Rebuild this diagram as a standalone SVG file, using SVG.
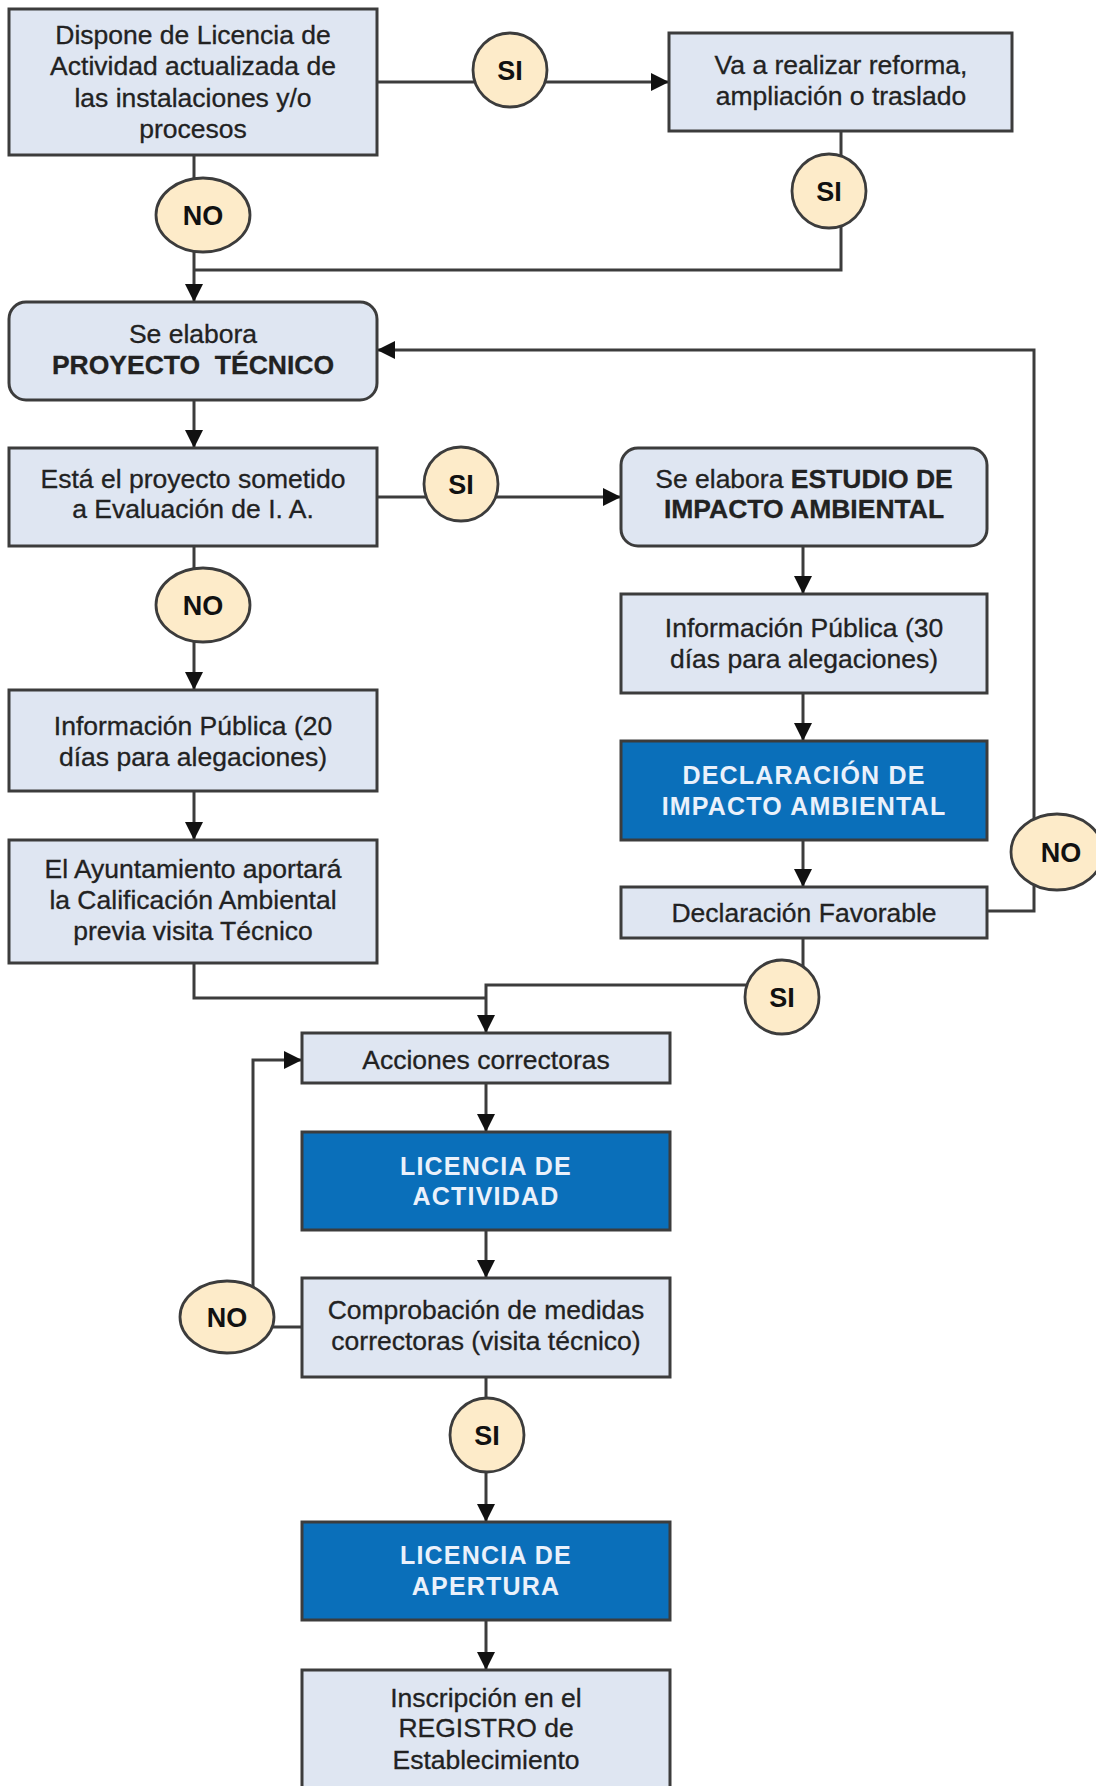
<svg xmlns="http://www.w3.org/2000/svg" width="1096" height="1786" viewBox="0 0 1096 1786">
<style>
.box{fill:#dfe6f2;stroke:#3c3c3c;stroke-width:3}
.dark{fill:#0a6fba;stroke:#3c3c3c;stroke-width:3}
.circ{fill:#fdebc9;stroke:#3c3c3c;stroke-width:2.8}
.conn{stroke:#3c3c3c;stroke-width:3;fill:none}
text{font-family:"Liberation Sans",Arial,sans-serif;font-size:26.5px;fill:#222;stroke:#222;stroke-width:0.3;text-anchor:middle}
.b{font-weight:bold}
.w{fill:#eaf1fb;stroke:none;font-weight:bold;letter-spacing:1.2px;font-size:25px}
.lbl{font-size:27px;font-weight:bold;fill:#111;stroke:none}
</style>
<defs>
<marker id="ah" viewBox="0 0 18 18" refX="18" refY="9" markerWidth="18" markerHeight="18" markerUnits="userSpaceOnUse" orient="auto">
<path d="M0,0 L18,9 L0,18 z" fill="#111"/>
</marker>
</defs>
<rect width="1096" height="1786" fill="#ffffff"/>
<g id="connectors">
<path class="conn" d="M377,82 H669" marker-end="url(#ah)"/>
<path class="conn" d="M841,131 V270 H194"/>
<path class="conn" d="M194,155 V302" marker-end="url(#ah)"/>
<path class="conn" d="M987,911 H1034 V350 H377" marker-end="url(#ah)"/>
<path class="conn" d="M194,400 V448" marker-end="url(#ah)"/>
<path class="conn" d="M377,497 H621" marker-end="url(#ah)"/>
<path class="conn" d="M194,546 V690" marker-end="url(#ah)"/>
<path class="conn" d="M803,546 V594" marker-end="url(#ah)"/>
<path class="conn" d="M803,693 V741" marker-end="url(#ah)"/>
<path class="conn" d="M803,840 V887" marker-end="url(#ah)"/>
<path class="conn" d="M194,791 V840" marker-end="url(#ah)"/>
<path class="conn" d="M194,963 V998 H486"/>
<path class="conn" d="M803,938 V985 H486 V1033" marker-end="url(#ah)"/>
<path class="conn" d="M486,1083 V1132" marker-end="url(#ah)"/>
<path class="conn" d="M486,1230 V1278" marker-end="url(#ah)"/>
<path class="conn" d="M302,1327 H253 V1060 H302" marker-end="url(#ah)"/>
<path class="conn" d="M486,1377 V1522" marker-end="url(#ah)"/>
<path class="conn" d="M486,1620 V1670" marker-end="url(#ah)"/>
</g>
<g id="n1">
<rect class="box" x="9" y="9" width="368" height="146"/>
<text x="193" y="44">Dispone de Licencia de</text>
<text x="193" y="75">Actividad actualizada de</text>
<text x="193" y="107">las instalaciones y/o</text>
<text x="193" y="138">procesos</text>
</g>
<g id="n2">
<rect class="box" x="669" y="33" width="343" height="98"/>
<text x="841" y="74">Va a realizar reforma,</text>
<text x="841" y="105">ampliación o traslado</text>
</g>
<g id="c1"><circle class="circ" cx="510" cy="70" r="37"/><text class="lbl" x="510" y="80">SI</text></g>
<g id="c2"><circle class="circ" cx="829" cy="191" r="37"/><text class="lbl" x="829" y="201">SI</text></g>
<g id="c3"><ellipse class="circ" cx="203" cy="215" rx="47" ry="37"/><text class="lbl" x="203" y="225">NO</text></g>
<g id="n3">
<rect class="box" x="9" y="302" width="368" height="98" rx="17"/>
<text x="193" y="343">Se elabora</text>
<text class="b" x="193" y="374" xml:space="preserve">PROYECTO  TÉCNICO</text>
</g>
<g id="n4">
<rect class="box" x="9" y="448" width="368" height="98"/>
<text x="193" y="488">Está el proyecto sometido</text>
<text x="193" y="518">a Evaluación de I. A.</text>
</g>
<g id="c4"><circle class="circ" cx="461" cy="484" r="37"/><text class="lbl" x="461" y="494">SI</text></g>
<g id="n5">
<rect class="box" x="621" y="448" width="366" height="98" rx="17"/>
<text x="804" y="488">Se elabora <tspan class="b">ESTUDIO DE</tspan></text>
<text class="b" x="804" y="518">IMPACTO AMBIENTAL</text>
</g>
<g id="c5"><ellipse class="circ" cx="203" cy="605" rx="47" ry="37"/><text class="lbl" x="203" y="615">NO</text></g>
<g id="n6">
<rect class="box" x="621" y="594" width="366" height="99"/>
<text x="804" y="637">Información Pública (30</text>
<text x="804" y="668">días para alegaciones)</text>
</g>
<g id="n7">
<rect class="dark" x="621" y="741" width="366" height="99"/>
<text class="w" x="804" y="784">DECLARACIÓN DE</text>
<text class="w" x="804" y="815">IMPACTO AMBIENTAL</text>
</g>
<g id="n8">
<rect class="box" x="621" y="887" width="366" height="51"/>
<text x="804" y="922">Declaración Favorable</text>
</g>
<g id="c6"><ellipse class="circ" cx="1057" cy="852" rx="46" ry="38"/><text class="lbl" x="1061" y="862">NO</text></g>
<g id="n9">
<rect class="box" x="9" y="690" width="368" height="101"/>
<text x="193" y="735">Información Pública (20</text>
<text x="193" y="766">días para alegaciones)</text>
</g>
<g id="n10">
<rect class="box" x="9" y="840" width="368" height="123"/>
<text x="193" y="878">El Ayuntamiento aportará</text>
<text x="193" y="909">la Calificación Ambiental</text>
<text x="193" y="940">previa visita Técnico</text>
</g>
<g id="c7"><circle class="circ" cx="782" cy="997" r="37"/><text class="lbl" x="782" y="1007">SI</text></g>
<g id="n11">
<rect class="box" x="302" y="1033" width="368" height="50"/>
<text x="486" y="1069">Acciones correctoras</text>
</g>
<g id="n12">
<rect class="dark" x="302" y="1132" width="368" height="98"/>
<text class="w" x="486" y="1175">LICENCIA DE</text>
<text class="w" x="486" y="1205">ACTIVIDAD</text>
</g>
<g id="n13">
<rect class="box" x="302" y="1278" width="368" height="99"/>
<text x="486" y="1319">Comprobación de medidas</text>
<text x="486" y="1350">correctoras (visita técnico)</text>
</g>
<g id="c8"><ellipse class="circ" cx="227" cy="1317" rx="47" ry="36"/><text class="lbl" x="227" y="1327">NO</text></g>
<g id="c9"><circle class="circ" cx="487" cy="1435" r="37"/><text class="lbl" x="487" y="1445">SI</text></g>
<g id="n14">
<rect class="dark" x="302" y="1522" width="368" height="98"/>
<text class="w" x="486" y="1564">LICENCIA DE</text>
<text class="w" x="486" y="1595">APERTURA</text>
</g>
<g id="n15">
<rect class="box" x="302" y="1670" width="368" height="130"/>
<text x="486" y="1707">Inscripción en el</text>
<text x="486" y="1737">REGISTRO de</text>
<text x="486" y="1769">Establecimiento</text>
</g>
</svg>
